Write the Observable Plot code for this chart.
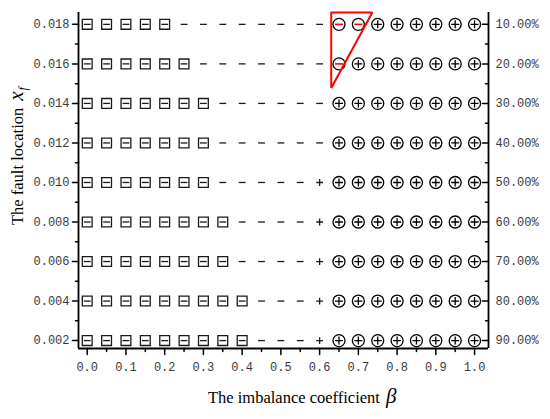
<!DOCTYPE html>
<html><head><meta charset="utf-8">
<script src="https://cdn.jsdelivr.net/npm/d3@7"></script>
<script src="https://cdn.jsdelivr.net/npm/@observablehq/plot@0.6"></script>
<style>body{margin:0;background:#fff}</style>
</head><body><div id="chart"></div>
<script>
// ---- data ----
const beta = [0, 0.05, 0.1, 0.15, 0.2, 0.25, 0.3, 0.35, 0.4, 0.45, 0.5, 0.55, 0.6, 0.65, 0.7, 0.75, 0.8, 0.85, 0.9, 0.95, 1.0];
const faultLocation = [0.018, 0.016, 0.014, 0.012, 0.010, 0.008, 0.006, 0.004, 0.002];
const rightTickLabels = ["10.00%", "20.00%", "30.00%", "40.00%", "50.00%", "60.00%", "70.00%", "80.00%", "90.00%"];
const xTickValues = [0, 0.1, 0.2, 0.3, 0.4, 0.5, 0.6, 0.7, 0.8, 0.9, 1.0];
const xMinorTicks = [0.05, 0.15, 0.25, 0.35, 0.45, 0.55, 0.65, 0.75, 0.85, 0.95];
const yMinorTicks = [0.003, 0.005, 0.007, 0.009, 0.011, 0.013, 0.015, 0.017];
// per row (top to bottom): number of each symbol, left to right
const boxMinusCount     = [5, 6, 7, 7, 7, 8, 8, 9, 9];
const dashCount         = [8, 7, 6, 6, 5, 4, 4, 3, 3];
const plusCount         = [0, 0, 0, 0, 1, 1, 1, 1, 1];
const circledMinusCount = [2, 1, 0, 0, 0, 0, 0, 0, 0];
const circledPlusCount  = [6, 7, 8, 8, 8, 8, 8, 8, 8];
// red triangle annotation (data units)
const triangleBeta = [0.630, 0.736, 0.630, 0.630];
const triangleLoc  = [0.0186, 0.0186, 0.01478, 0.0186];

const xDomain = [-0.0225, 1.036];
const yDomain = [0.0016, 0.0186];

// ---- build table ----
const points = [];
faultLocation.forEach((y, i) => {
  const seq = [
    ...Array(boxMinusCount[i]).fill("box"),
    ...Array(dashCount[i]).fill("dash"),
    ...Array(plusCount[i]).fill("plus"),
    ...Array(circledMinusCount[i]).fill("cminus"),
    ...Array(circledPlusCount[i]).fill("cplus")
  ];
  seq.forEach((type, j) => points.push({beta: beta[j], loc: y, type}));
});
const of = t => points.filter(d => d.type === t);
const triangle = triangleBeta.map((b, i) => ({beta: b, loc: triangleLoc[i]}));

// ---- custom symbols ----
const rad = s => Math.sqrt(s / Math.PI);
const symRect = {draw(c, s) { const r = rad(s); c.rect(-r, -r, 2 * r, 2 * r); }};
const symMinus = {draw(c, s) { const r = rad(s); c.moveTo(-r, 0); c.lineTo(r, 0); }};
const symPlus = {draw(c, s) { const r = rad(s); c.moveTo(-r, 0); c.lineTo(r, 0); c.moveTo(0, -r); c.lineTo(0, r); }};
const tickShape = {draw(c, l) { c.moveTo(0, 0); c.lineTo(0, -l); }};

const ink = "#1a1a1a";
const sw = 1.3;

const plot = Plot.plot({
  width: 550,
  height: 419,
  marginLeft: 78,
  marginRight: 62,
  marginTop: 12,
  marginBottom: 71,
  style: {fontFamily: "'Liberation Mono', monospace", fontSize: "12px", color: "#3a3a3a", background: "#fff"},
  x: {domain: xDomain},
  y: {domain: yDomain},
  marks: [
    // symbols
    Plot.dot(of("box"), {x: "beta", y: "loc", symbol: symRect, r: 4.9, stroke: ink, strokeWidth: sw, fill: "none"}),
    Plot.dot(of("box"), {x: "beta", y: "loc", symbol: symMinus, r: 3.4, stroke: ink, strokeWidth: sw, fill: "none"}),
    Plot.dot(of("dash"), {x: "beta", y: "loc", symbol: symMinus, r: 3.4, stroke: ink, strokeWidth: sw, fill: "none"}),
    Plot.dot(of("plus"), {x: "beta", y: "loc", symbol: symPlus, r: 3.4, stroke: ink, strokeWidth: sw, fill: "none"}),
    Plot.dot(of("cplus"), {x: "beta", y: "loc", r: 6, stroke: "#000", strokeWidth: sw, fill: "none"}),
    Plot.dot(of("cplus"), {x: "beta", y: "loc", symbol: symPlus, r: 4, stroke: "#000", strokeWidth: sw, fill: "none"}),
    Plot.dot(of("cminus"), {x: "beta", y: "loc", r: 6, stroke: "#000", strokeWidth: sw, fill: "none"}),
    Plot.dot(of("cminus"), {x: "beta", y: "loc", symbol: symMinus, r: 4, stroke: "red", strokeWidth: 1.6, fill: "none"}),
    // red triangle
    Plot.line(triangle, {x: "beta", y: "loc", stroke: "red", strokeWidth: 2, strokeLinejoin: "miter"}),
    // axis lines
    Plot.ruleX([xDomain[0], xDomain[1]], {stroke: "#000", strokeWidth: 1.8}),
    Plot.ruleY([yDomain[0]], {stroke: "#000", strokeWidth: 1.8}),
    // ticks
    Plot.vector(faultLocation, {x: () => xDomain[0], y: d => d, length: 6, rotate: -90, anchor: "start", shape: tickShape, stroke: "#000", strokeWidth: 1.5}),
    Plot.vector(yMinorTicks, {x: () => xDomain[0], y: d => d, length: 3, rotate: -90, anchor: "start", shape: tickShape, stroke: "#000", strokeWidth: 1.5}),
    Plot.vector(faultLocation, {x: () => xDomain[1], y: d => d, length: 6, rotate: -90, anchor: "start", shape: tickShape, stroke: "#000", strokeWidth: 1.5}),
    Plot.vector(yMinorTicks, {x: () => xDomain[1], y: d => d, length: 3, rotate: -90, anchor: "start", shape: tickShape, stroke: "#000", strokeWidth: 1.5}),
    Plot.vector(xTickValues, {x: d => d, y: () => yDomain[0], length: 6, rotate: 180, anchor: "start", shape: tickShape, stroke: "#000", strokeWidth: 1.5}),
    Plot.vector(xMinorTicks, {x: d => d, y: () => yDomain[0], length: 3, rotate: 180, anchor: "start", shape: tickShape, stroke: "#000", strokeWidth: 1.5}),
    // tick labels
    Plot.axisY({anchor: "left", ticks: faultLocation, tickSize: 0, tickPadding: 9, tickFormat: d3.format(".3f"), label: null}),
    Plot.axisY({anchor: "right", ticks: faultLocation, tickSize: 0, tickPadding: 7, tickFormat: d => rightTickLabels[faultLocation.indexOf(d)], label: null}),
    Plot.axisX({anchor: "bottom", ticks: xTickValues, tickSize: 0, tickPadding: 14, tickFormat: d3.format(".1f"), label: null})
  ]
});

const svg = d3.select(plot);
// x axis title
const xt = svg.append("text")
  .attr("x", 208).attr("y", 403).attr("text-anchor", "start")
  .attr("font-family", "'Liberation Serif', serif").attr("font-size", 16.5).attr("fill", "#000");
xt.append("tspan").text("The imbalance coefficient");
xt.append("tspan").attr("dx", 6).attr("font-style", "italic").attr("font-size", 21).text("β");
// y axis title
const yt = svg.append("text")
  .attr("transform", "translate(23,225) rotate(-90)").attr("text-anchor", "start")
  .attr("font-family", "'Liberation Serif', serif").attr("font-size", 16.5).attr("fill", "#000");
yt.append("tspan").text("The fault location");
yt.append("tspan").attr("dx", 7).attr("font-style", "italic").attr("font-size", 21).text("x");
yt.append("tspan").attr("dx", 1).attr("dy", 4).attr("font-style", "italic").attr("font-size", 12).text("f");

document.getElementById("chart").append(plot);
</script>
</body></html>
